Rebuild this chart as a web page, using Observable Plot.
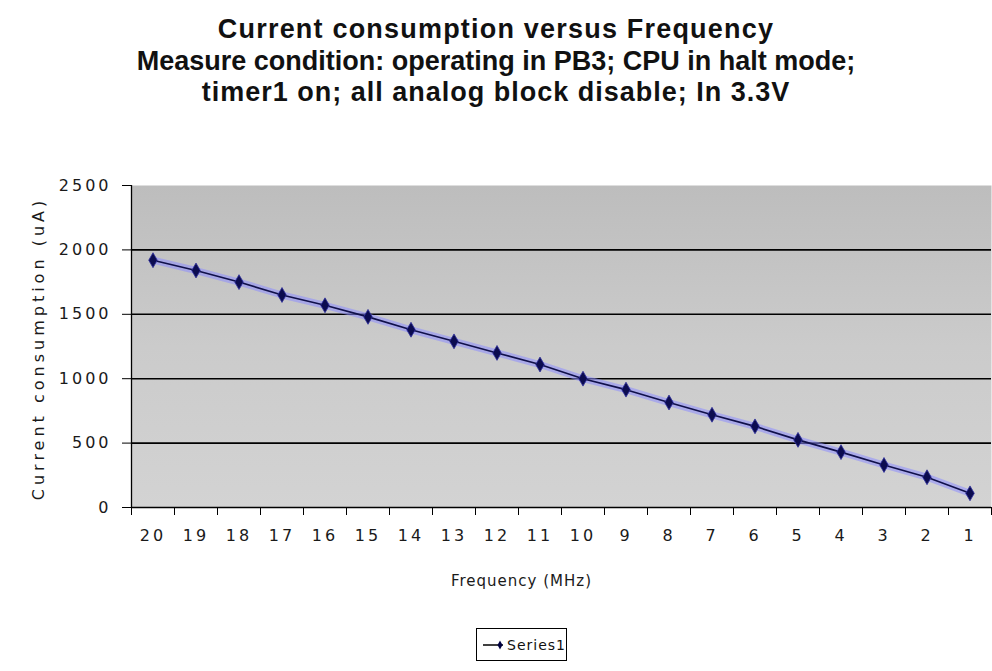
<!DOCTYPE html>
<html>
<head>
<meta charset="utf-8">
<script src="https://cdn.jsdelivr.net/npm/d3@7"></script>
<script src="https://cdn.jsdelivr.net/npm/@observablehq/plot@0.6"></script>
<style>
  html, body { margin: 0; padding: 0; background: #fff; }
  #wrap { position: relative; width: 992px; height: 671px; overflow: hidden; font-family: "Liberation Sans", Arial, sans-serif; }
  #title { position: absolute; left: 0; top: 14px; width: 992px; text-align: center; font-weight: bold; font-size: 27px; line-height: 31.5px; color: #111; }
  #title span { display: inline-block; }
  #chart { position: absolute; left: 0; top: 170px; }
  #legend { position: absolute; left: 476px; top: 628px; width: 89px; height: 31px; border: 1px solid #000; background: #fff; display: flex; align-items: center; font-family: "DejaVu Sans", sans-serif; font-size: 14px; letter-spacing: 1px; color: #111; }
  #legend svg { margin-left: 6px; margin-right: 4px; }
  #chart g[aria-label="y-axis tick label"] text,
  #chart g[aria-label="x-axis tick label"] text { font-family: "DejaVu Sans", sans-serif; letter-spacing: 3px; }
  #chart .ylab text { font-family: "DejaVu Sans", sans-serif; letter-spacing: 4px; }
  #chart .xlab text { font-family: "DejaVu Sans", sans-serif; letter-spacing: 1px; }
</style>
</head>
<body>
<div id="wrap">
  <div id="title"><span style="letter-spacing:1.2px">Current consumption versus Frequency</span><br><span>Measure condition: operating in PB3; CPU in halt mode;</span><br><span style="letter-spacing:1px">timer1 on; all analog block disable; In 3.3V</span></div>
  <div id="chart"></div>
  <div id="legend"><svg width="34" height="12"><line x1="0" y1="6" x2="34" y2="6" stroke="#000" stroke-width="1.3"/><path d="M17,1.5 L19.5,6 L17,10.5 L14.5,6 Z" fill="#000040"/></svg><span>Series1</span></div>
</div>
<script>
const frequencies = [20, 19, 18, 17, 16, 15, 14, 13, 12, 11, 10, 9, 8, 7, 6, 5, 4, 3, 2, 1];
const current = [1920, 1840, 1750, 1650, 1570, 1480, 1380, 1290, 1200, 1110, 1000, 915, 815, 720, 630, 525, 430, 330, 235, 110];
const yTicks = [0, 500, 1000, 1500, 2000, 2500];
const gridValues = [500, 1000, 1500, 2000];
const xLabel = "Frequency (MHz)";
const yLabel = "Current consumption (uA)";

const data = frequencies.map((f, i) => ({f, c: current[i]}));
const boundaries = frequencies.map(f => f + 0.5).concat([0.5]);

const chart = Plot.plot({
  width: 992,
  height: 501,
  marginLeft: 131,
  marginRight: 1,
  marginTop: 15,
  marginBottom: 164,
  style: {fontFamily: "Liberation Sans, Arial, sans-serif", fontSize: "16px", color: "#1a1a1a", background: "transparent", overflow: "visible"},
  x: {domain: [20.5, 0.5], axis: null},
  y: {domain: [0, 2500], axis: null},
  marks: [
    Plot.frame({fill: "url(#plotbg)", stroke: "none"}),
    Plot.gridY(gridValues, {stroke: "#000", strokeOpacity: 1, strokeWidth: 1.6}),
    Plot.axisY(yTicks, {anchor: "left", tickSize: 9, tickPadding: 11, label: null, tickFormat: d => String(d), stroke: "#000", strokeOpacity: 1, fill: "#1a1a1a", fontSize: 16}),
    Plot.axisX(frequencies, {anchor: "bottom", tickSize: 0, tickPadding: 22, label: null, tickFormat: d => String(d), fill: "#1a1a1a", fontSize: 16}),
    Plot.axisX(boundaries, {anchor: "bottom", tickSize: 8, tickFormat: () => "", label: null, stroke: "#000", strokeOpacity: 1}),
    Plot.ruleY([0], {stroke: "#000", strokeWidth: 1.3}),
    Plot.ruleX([20.5], {stroke: "#000", strokeWidth: 1.3}),
    Plot.line(data, {x: "f", y: "c", stroke: "#8c8cff", strokeWidth: 7, strokeOpacity: 0.55}),
    Plot.line(data, {x: "f", y: "c", stroke: "#10104a", strokeWidth: 1.6}),
    Plot.dot(data, {x: "f", y: "c", symbol: "diamond", r: 4.5, fill: "#0c0c50", stroke: "#3030a0", strokeWidth: 0.8}),
    Plot.text([xLabel], {text: d => d, frameAnchor: "bottom", dy: 78, dx: -40, fontSize: 15, fill: "#1a1a1a", className: "xlab"}),
    Plot.text([yLabel], {text: d => d, frameAnchor: "left", textAnchor: "middle", rotate: -90, dx: -93, dy: 2, fontSize: 16, fill: "#1a1a1a", className: "ylab"})
  ]
});

chart.insertAdjacentHTML("afterbegin",
  '<defs><linearGradient id="plotbg" x1="0" y1="0" x2="0" y2="1">' +
  '<stop offset="0" stop-color="#bdbdbd"/><stop offset="0.5" stop-color="#cbcbcb"/><stop offset="1" stop-color="#d3d3d3"/>' +
  '</linearGradient></defs>');
document.getElementById("chart").appendChild(chart);
</script>
</body>
</html>
